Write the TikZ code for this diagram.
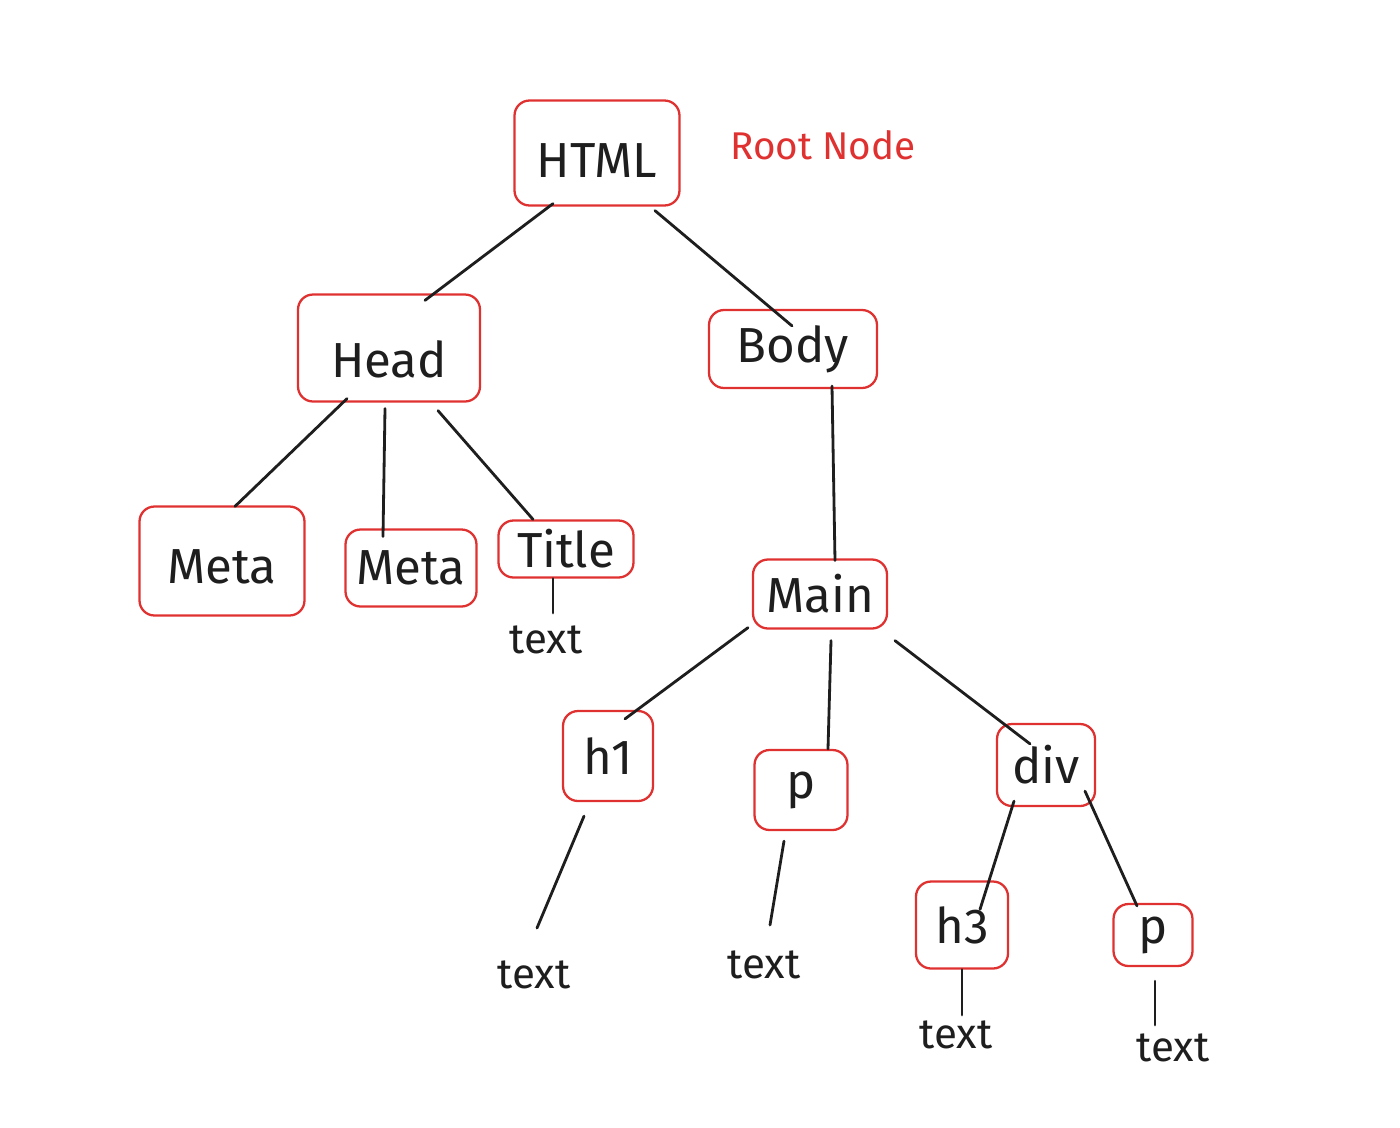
\documentclass[tikz,border=0pt]{standalone}
\usepackage{fontspec}
\setmainfont{Fira Sans}
\usepackage{tikz}
\usetikzlibrary{calc}

\definecolor{inkred}{HTML}{E03131}
\definecolor{ink}{HTML}{1E1E1E}

\tikzset{
  box/.style={draw=inkred,line width=1.3pt,rounded corners=0.3cm,
    text=ink,font=\fontsize{28}{30}\selectfont,inner sep=0pt},
  leaf/.style={text=ink,font=\fontsize{24}{26}\selectfont,inner sep=0pt},
  link/.style={line width=1.6pt,draw=ink,line cap=round}
}

\begin{document}
\begin{tikzpicture}[x=0.02cm,y=-0.02cm]
    \useasboundingbox (0,0) rectangle (1400,1127);

    \node[box,minimum width=3.3cm,minimum height=2.1cm,text height=28pt,text depth=0pt]   (html) at (597,153) {HTML};
    \node[text=inkred,font=\fontsize{22}{24}\selectfont]    (root)    at (823,145)  {Root Node};
    \node[box,minimum width=3.64cm,minimum height=2.14cm,text height=34pt,text depth=0pt] (head) at (389,348) {Head};
    \node[box,minimum width=3.36cm,minimum height=1.56cm]  (body)    at (793,349)  {Body};
    \node[box,minimum width=3.3cm,minimum height=2.18cm,text height=26pt,text depth=0pt]  (metaone) at (222,561) {Meta};
    \node[box,minimum width=2.62cm,minimum height=1.54cm]  (metatwo) at (411,568)  {Meta};
    \node[box,minimum width=2.7cm,minimum height=1.14cm]   (title)   at (566,549)  {Title};
    \node[box,minimum width=2.68cm,minimum height=1.38cm]  (main)    at (820,594)  {Main};
    \node[box,minimum width=1.8cm,minimum height=1.8cm]    (hone)    at (608,756)  {h1};
    \node[box,minimum width=1.86cm,minimum height=1.6cm]   (para)    at (801,790)  {p};
    \node[box,minimum width=1.96cm,minimum height=1.64cm]  (div)     at (1046,765) {div};
    \node[box,minimum width=1.84cm,minimum height=1.74cm]  (hthree)  at (962,925)  {h3};
    \node[box,minimum width=1.58cm,minimum height=1.24cm]  (paratwo) at (1153,935) {p};

    % text leaves
    \node[leaf] (txttitle)   at (546,640)  {text};
    \node[leaf] (txthone)    at (534,975)  {text};
    \node[leaf] (txtpara)    at (764,965)  {text};
    \node[leaf] (txththree)  at (956,1035) {text};
    \node[leaf] (txtparatwo) at (1173,1048) {text};

    \path [link]
    ($(html.south)+(-44,-3)$)   edge ($(head.north)+(36,7)$)
    ($(html.south)+(58,4)$)     edge ($(body.north)+(-1,17)$)
    ($(head.south)+(-42,-4)$)   edge ($(metaone.north)+(13,1)$)
    ($(head.south)+(-4,6)$)     edge ($(metatwo.north)+(-28,8)$)
    ($(head.south)+(49,8)$)     edge ($(title.north)+(-33,0)$)
    ($(body.south)+(39,-3)$)    edge ($(main.north)+(15,2)$)
    ($(main.south)+(-72,-2)$)   edge ($(hone.north)+(17,9)$)
    ($(main.south)+(11,11)$)    edge ($(para.north)+(27,0)$)
    ($(main.south)+(75,11)$)    edge ($(div.north)+(-16,21)$)
    ($(div.south)+(-32,-6)$)    edge ($(hthree.north)+(18,29)$)
    ($(div.south)+(39,-16)$)    edge ($(paratwo.north)+(-16,3)$)
    ($(title.south)+(-13,0)$)   edge ($(txttitle)+(7,-27)$)
    ($(hone.south)+(-24,14)$)   edge ($(txthone)+(3,-47)$)
    ($(para.south)+(-17,10)$)   edge ($(txtpara)+(6,-40)$)
    (hthree.south)              edge ($(txththree)+(6,-20)$)
    ($(paratwo.south)+(2,14)$)  edge ($(txtparatwo)+(-18,-23)$);
\end{tikzpicture}
\end{document}
